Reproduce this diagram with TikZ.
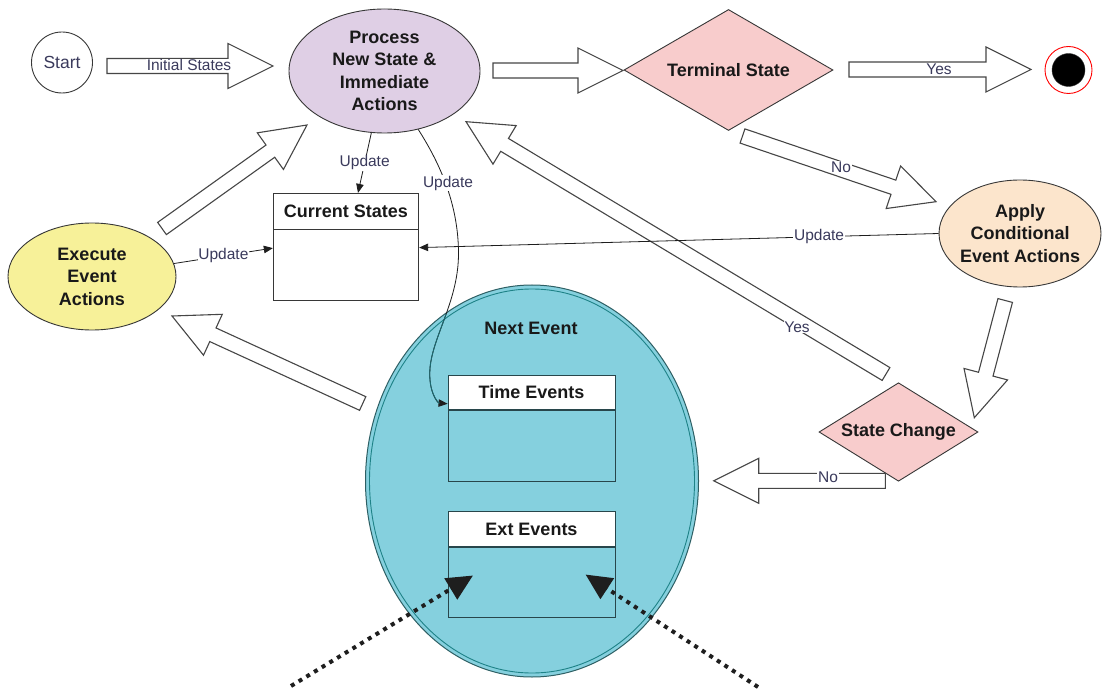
\documentclass[tikz,border=0pt]{standalone}
\usepackage{fontspec}
\setmainfont{Liberation Sans}
\usetikzlibrary{calc,shapes.geometric,arrows.meta}
\definecolor{linec}{RGB}{55,55,55}
\definecolor{arrc}{RGB}{70,70,70}
\definecolor{txtc}{RGB}{25,25,25}
\definecolor{labc}{RGB}{58,58,92}
\definecolor{procc}{RGB}{223,207,229}
\definecolor{diac}{RGB}{248,204,204}
\definecolor{applyc}{RGB}{252,229,204}
\definecolor{execc}{RGB}{247,241,153}
\definecolor{nextc}{RGB}{133,208,222}
\definecolor{nextdark}{RGB}{45,95,100}
\definecolor{nextline}{RGB}{30,130,135}
\definecolor{curveteal}{RGB}{25,105,112}
\definecolor{boxc}{RGB}{40,70,75}
\definecolor{updc}{RGB}{30,30,30}
\definecolor{dotc}{RGB}{30,30,30}
\newcommand{\bashaft}{7.5pt}
\newcommand{\bawing}{22.5pt}
\newcommand{\bahead}{45pt}
\newcommand{\blockarr}[2]{%
  \coordinate (ba-b) at ($(#2)!\bahead!(#1)$);
  \draw[blockarrow] ($(#1)!\bashaft!90:(#2)$) -- ($(ba-b)!\bashaft!-90:(#1)$) -- ($(ba-b)!\bawing!-90:(#1)$) -- (#2) -- ($(ba-b)!\bawing!90:(#1)$) -- ($(ba-b)!\bashaft!90:(#1)$) -- ($(#1)!\bashaft!-90:(#2)$) -- cycle;
}
\newcommand{\updcurve}{(proc.300) .. controls (441,165) and (458,205) .. (458.5,252)
  .. controls (459,300) and (433,335) .. (430,368)
  .. controls (428,392) and (438,403) .. ($(teh.south west)+(0,-6)$)}
\begin{document}
\begin{tikzpicture}[x=1pt,y=-1pt,
  shapeline/.style={draw=linec, line width=0.9pt},
  bt/.style={font=\fontsize{18}{22.5}\selectfont\bfseries, text=txtc, align=center},
  lab/.style={font=\fontsize{15.5}{18}\selectfont, text=labc, fill=white, inner sep=0.8pt},
  blockarrow/.style={draw=arrc, line width=1.1pt, fill=white, line join=miter},
  upd/.style={draw=updc, line width=0.8pt, -{Triangle[length=9pt,width=7.5pt]}},
  dotarr/.style={draw=dotc, line width=4pt, dash pattern=on 4pt off 5pt, -{Triangle[length=26pt,width=24pt]}},
  boxhead/.style={draw=boxc, line width=0.9pt, fill=white, rectangle, inner sep=0pt, bt},
  boxbody/.style={draw=boxc, line width=0.9pt, rectangle, inner sep=0pt, anchor=north}
]
\fill[white] (0,0) rectangle (1102,692);
\useasboundingbox (0,0) rectangle (1102,692);

% ---- nodes ----
\node[circle, shapeline, fill=white, minimum size=61pt, inner sep=0pt,
      font=\fontsize{17.5}{20}\selectfont, text=labc] (start) at (62,62.5) {Start};
\node[ellipse, shapeline, fill=procc, minimum width=191pt, minimum height=124pt, inner sep=0pt,
      label={[bt]center:{Process\\New State \&\\Immediate\\Actions}}] (proc) at (384.5,71) {};
\node[diamond, shapeline, fill=diac, minimum width=209pt, minimum height=121pt, inner sep=0pt,
      label={[bt]center:Terminal State}] (term) at (728.5,70) {};
\node[circle, draw=red, line width=0.9pt, fill=white, minimum size=47pt, inner sep=0pt] (endo) at (1068.5,70) {};
\node[circle, fill=black, draw=black!80, minimum size=33pt, inner sep=0pt] (endi) at (endo) {};
\node[ellipse, shapeline, fill=applyc, minimum width=162pt, minimum height=107pt, inner sep=0pt,
      label={[bt]center:{Apply\\Conditional\\Event Actions}}] (apply) at (1020,233.5) {};
\node[diamond, shapeline, fill=diac, minimum width=159pt, minimum height=98.5pt, inner sep=0pt,
      label={[bt]center:State Change}] (sc) at (898.5,432) {};
\node[ellipse, shapeline, fill=execc, minimum width=168pt, minimum height=107pt, inner sep=0pt,
      label={[bt]center:{Execute\\Event\\Actions}}] (exec) at (92,276.5) {};

\node[boxhead, draw=linec, minimum width=145.4pt, minimum height=35.7pt] (csh) at (346,211.2) {Current States};
\node[boxbody, draw=linec, fill=white, minimum width=145.4pt, minimum height=70.3pt] (cs) at (csh.south) {};

\node[ellipse, draw=nextdark, line width=1pt, fill=nextc,
      minimum width=333pt, minimum height=392pt, inner sep=0pt] (next) at (532,481) {};
\node[ellipse, draw=nextline, line width=0.9pt, minimum width=325pt, minimum height=384pt, inner sep=0pt] (nexti) at (next) {};
\node[bt] (nextt) at (531,328) {Next Event};

\node[boxhead, minimum width=167pt, minimum height=34pt] (teh) at (531.5,392.3) {Time Events};
\node[boxbody, minimum width=167pt, minimum height=71.7pt] (te) at (teh.south) {};
\node[boxhead, minimum width=167pt, minimum height=34.3pt] (eeh) at (531.5,528.9) {Ext Events};
\node[boxbody, minimum width=167pt, minimum height=70.7pt] (ee) at (eeh.south) {};

% ---- block arrow end points ----
\coordinate (a1s) at (107,66);     \coordinate (a1e) at (273,66);
\coordinate (a2s) at (493,70.5);   \coordinate (a2e) at (623,70.5);
\coordinate (a3s) at (849,69.5);   \coordinate (a3e) at (1031,69.5);
\coordinate (a4s) at (742.5,136);  \coordinate (a4e) at (936,201.7);
\coordinate (a5s) at (1005.2,300.5); \coordinate (a5e) at (974.3,417.7);
\coordinate (a6s) at (885.3,480.8); \coordinate (a6e) at (713.7,480.8);
\coordinate (a7s) at (886,374);    \coordinate (a7e) at (466,121.7);
\coordinate (a8s) at (162,228.5);  \coordinate (a8e) at (307,125);
\coordinate (a9s) at (362.7,403.5); \coordinate (a9e) at (172,316);

\blockarr{a1s}{a1e}
\blockarr{a2s}{a2e}
\blockarr{a3s}{a3e}
\blockarr{a4s}{a4e}
\blockarr{a5s}{a5e}
\blockarr{a6s}{a6e}
\blockarr{a7s}{a7e}
\blockarr{a8s}{a8e}
\blockarr{a9s}{a9e}

\node[lab] (l1) at (189,65) {Initial States};
\node[lab] (l3) at (939,69) {Yes};
\node[lab] (l4) at (841,167) {No};
\node[lab] (l6) at (828,477) {No};
\node[lab] (l7) at (797,327) {Yes};

% ---- update connectors ----
\draw[upd] (proc.258) -- ($(csh.north)+(12,0)$) node[lab, midway] (u1) {Update};
\draw[upd] (exec.9) -- ($(cs.west)+(0,-17)$) node[lab, midway] (u2) {Update};
\draw[upd] (apply.west) -- ($(cs.east)+(0,-17.5)$) node[lab, pos=0.23] (u3) {Update};

\draw[upd] \updcurve;
\begin{scope}
  \clip (next.center) ellipse [x radius=166pt, y radius=195pt];
  \draw[draw=curveteal, line width=0.9pt, shorten >=8pt] \updcurve;
\end{scope}
\node[lab] (u4) at (448,183) {Update};

% ---- external event arrows ----
\coordinate (d1s) at (291,686);  \coordinate (d1e) at (473,575.5);
\coordinate (d2s) at (758,687);  \coordinate (d2e) at (585.5,574.5);
\draw[dotarr] (d1s) -- (d1e);
\draw[dotarr] (d2s) -- (d2e);
\end{tikzpicture}
\end{document}
